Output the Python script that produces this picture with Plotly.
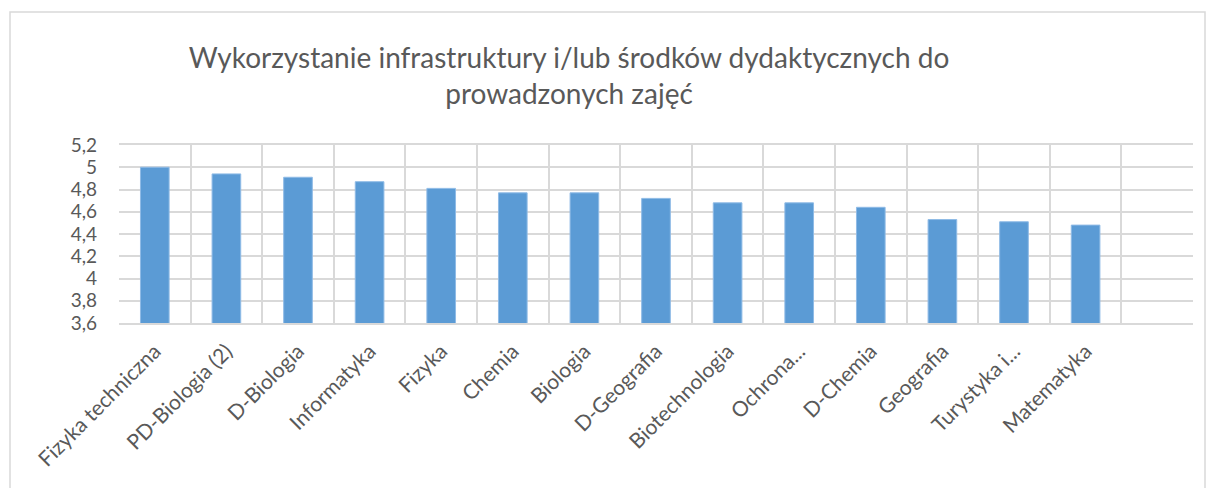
import plotly.graph_objects as go

categories = ["Fizyka techniczna", "PD-Biologia (2)", "D-Biologia", "Informatyka", "Fizyka",
              "Chemia", "Biologia", "D-Geografia", "Biotechnologia", "Ochrona...",
              "D-Chemia", "Geografia", "Turystyka i...", "Matematyka", " "]
values = [5.00, 4.94, 4.91, 4.87, 4.81, 4.77, 4.77, 4.72, 4.68, 4.68, 4.64, 4.53, 4.51, 4.48, None]
yticks = [3.6, 3.8, 4.0, 4.2, 4.4, 4.6, 4.8, 5.0, 5.2]
title_text = "Wykorzystanie infrastruktury i/lub środków dydaktycznych do<br>prowadzonych zajęć"

W, H = 1208, 488
L, R, T, B = 119, 15, 145, 165
pw, ph = W - L - R, H - T - B
FONT = "Lato, Noto Sans, Liberation Sans"

def px(x):
    return (x - L) / pw

def py(y):
    return (H - B - y) / ph

fig = go.Figure(go.Bar(x=categories, y=values, marker_color="#5b9bd5",
                       marker_line_width=1, marker_line_color="#8fbbe6"))

fig.update_layout(
    width=W, height=H,
    margin=dict(l=L, r=R, t=T, b=B, autoexpand=False),
    paper_bgcolor="white", plot_bgcolor="white",
    separators=", ",
    bargap=0.6,
    showlegend=False,
    font=dict(family=FONT, color="#595959"),
    title=dict(text=title_text, x=569 / W, xanchor="center", xref="container",
               y=1 - 68 / H, yanchor="top", yref="container",
               font=dict(size=28, color="#595959", family=FONT)),
    shapes=[dict(type="rect", xref="paper", yref="paper",
                 x0=px(10), x1=px(1205), y0=py(500), y1=py(12),
                 line=dict(color="#d9d9d9", width=1.5), layer="above")],
)
fig.update_xaxes(type="category", tickson="boundaries", showgrid=True, gridcolor="#d9d9d9",
                 gridwidth=1.5, showline=True, linecolor="#d9d9d9", linewidth=1.5,
                 ticks="", tickangle=-45, tickfont=dict(size=21, color="#595959"),
                 ticklabelstandoff=6,
                 range=[-0.5, len(categories) - 0.5], mirror=True, automargin=False)
fig.update_yaxes(range=[3.6, 5.2], tickvals=yticks, showgrid=True, gridcolor="#d9d9d9",
                 gridwidth=1.5, showline=False, zeroline=False, ticks="", ticklabelstandoff=21,
                 tickfont=dict(size=19, color="#595959"), tickformat=".1~f", automargin=False)

fig.write_html("out.html", config={"displayModeBar": False},
               post_script="document.body.style.margin='0';")
